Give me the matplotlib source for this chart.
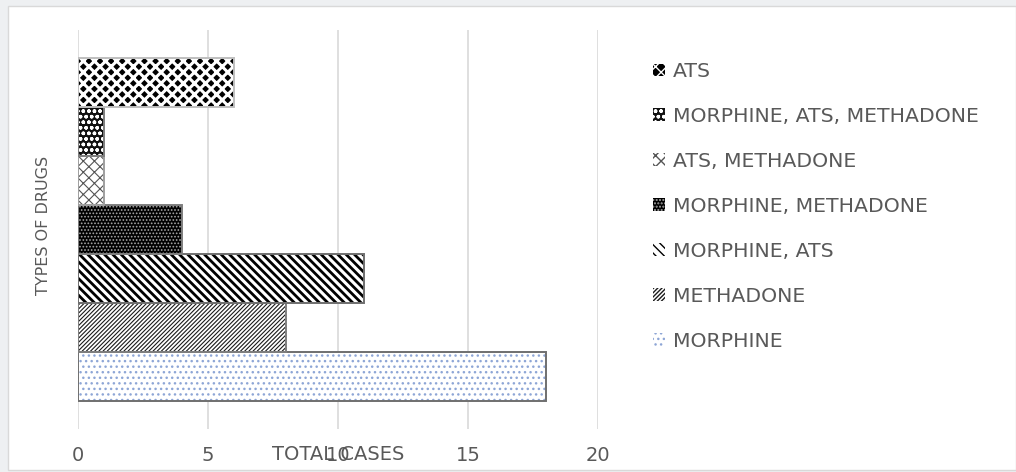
"""
Horizontal clustered bar chart: total cases per type of drug, Excel-style
hatched fills with a legend on the right.
"""

import matplotlib
matplotlib.use("Agg")
import matplotlib.pyplot as plt
from matplotlib.patches import Rectangle

# ─── Data ────────────────────────────────────────────────────────────────────
drug_types = [
    "MORPHINE",
    "METHADONE",
    "MORPHINE, ATS",
    "MORPHINE, METHADONE",
    "ATS, METHADONE",
    "MORPHINE, ATS, METHADONE",
    "ATS",
]
total_cases = [18, 8, 11, 4, 1, 1, 6]
x_ticks = [0, 5, 10, 15, 20]

# fill styles: (facecolor, hatch, hatch colour, hatch linewidth, edge colour)
STYLES = [
    ("white",   "...",      "#8ea6d6", 1.0, "#6f6f6f"),
    ("white",   "////////", "#1a1a1a", 0.8, "#7f7f7f"),
    ("white",   "\\\\\\\\", "black",   2.0, "#6f6f6f"),
    ("black",   ".....",    "#a8a8a8", 0.8, "#7f7f7f"),
    ("white",   "xxx",      "#555555", 0.8, "#9f9f9f"),
    ("#111111", "ooo",      "white",   1.0, "#7f7f7f"),
    ("black",   "xxx",      "white",   2.2, "#bfbfbf"),
]

TXT = "#595959"
GRID = "#d9d9d9"
FONT = "DejaVu Sans"

W, H = 1016, 472
fig = plt.figure(figsize=(W / 100, H / 100), dpi=100, facecolor="#eef0f2")
fig.patches.append(Rectangle((8 / W, 2 / H), 1 - 8 / W, 1 - 8 / H,
                             transform=fig.transFigure, facecolor="white",
                             edgecolor="#d9d9d9", lw=1, zorder=-5))

ax = fig.add_axes([78 / W, 1 - 429 / H, 520 / W, 399 / H])
ax.set_facecolor("none")

handles = []
for i, (name, val) in enumerate(zip(drug_types, total_cases)):
    fc, hatch, hc, hlw, ec = STYLES[i]
    with plt.rc_context({"hatch.linewidth": hlw}):
        b = ax.barh(i, val, height=1.0, color=fc, hatch=hatch,
                    edgecolor=hc, lw=0, zorder=2, label=name)
    for p in b.patches:
        if hasattr(p, "set_hatch_linewidth"):
            p.set_hatch_linewidth(hlw)
    ax.barh(i, val, height=1.0, fill=False, edgecolor=ec, lw=1.4, zorder=3)
    handles.append(b.patches[0])

gap = 0.56
ax.set_ylim(-0.5 - gap, len(drug_types) - 0.5 + gap)
ax.set_xlim(0, 20)
ax.set_xticks(x_ticks)
ax.set_yticks([])
ax.tick_params(axis="x", length=0, pad=12.5, labelsize=14, labelcolor=TXT)
ax.grid(axis="x", color=GRID, lw=1.2, zorder=0)
ax.set_axisbelow(True)
for s in ax.spines.values():
    s.set_visible(False)

ax.set_xlabel("TOTAL CASES", fontsize=14, color=TXT, family=FONT)
ax.xaxis.set_label_coords(0.5, -0.065)
ax.xaxis.label.set_va("center")
ax.set_ylabel("TYPES OF DRUGS", fontsize=11.5, color=TXT, family=FONT)
ax.yaxis.set_label_coords(-0.067, 0.51)
ax.yaxis.label.set_va("center")

leg = fig.legend(handles[::-1], drug_types[::-1], loc="upper left",
                 bbox_to_anchor=(643 / W, 1 - 52 / H), frameon=False,
                 prop={"family": FONT, "size": 14.7},
                 labelcolor=TXT, handlelength=0.6, handleheight=0.6,
                 handletextpad=0.35, labelspacing=1.27, borderpad=0)

fig.savefig("out.png", dpi=100, facecolor=fig.get_facecolor())
